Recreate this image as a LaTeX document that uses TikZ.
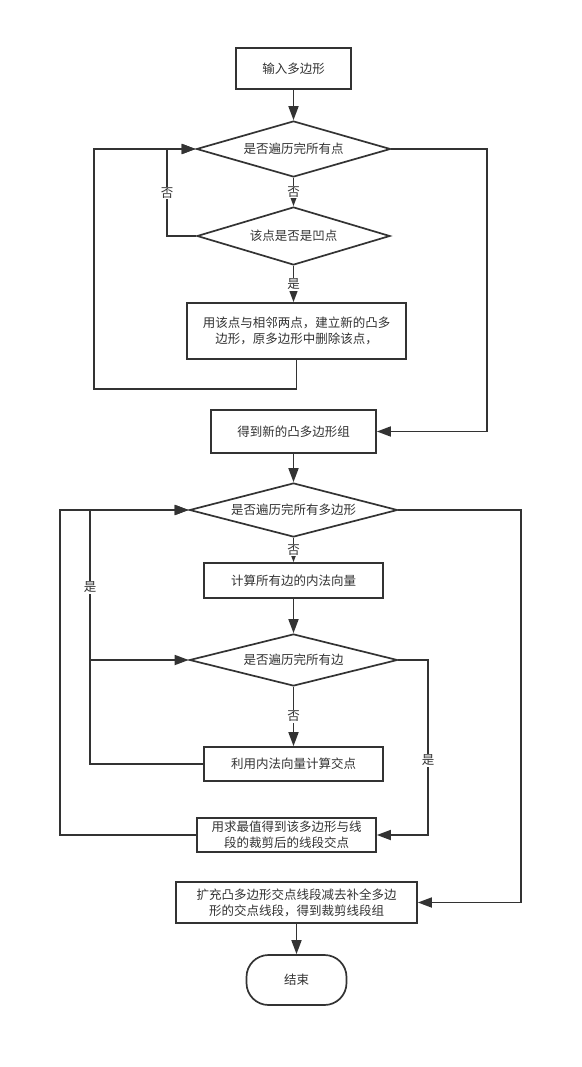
\documentclass[tikz,border=0pt]{standalone}
\usepackage{fontspec}
\setmainfont{Noto Sans CJK SC}
\usetikzlibrary{shapes.geometric,arrows.meta}
\definecolor{ln}{HTML}{333333}
\tikzset{
  base/.style={draw=ln, line width=1.7pt, text=ln, font=\fontsize{12.5pt}{16pt}\selectfont, inner sep=0pt, align=center},
  procbox/.style={base, rectangle},
  decide/.style={base, diamond, aspect=3.5},
  termbox/.style={base, rectangle, rounded corners=22pt},
  flow/.style={draw=ln, line width=1.7pt, -{Triangle[length=14pt,width=10pt]}},
  lab/.style={fill=white, text=ln, font=\fontsize{12.5pt}{15pt}\selectfont, inner sep=1pt}
}
\begin{document}
\begin{tikzpicture}[x=1pt,y=-1pt]
\fill[white] (0,0) rectangle (581,1067);
\useasboundingbox (0,0) rectangle (581,1067);

\node[procbox, minimum width=115pt, minimum height=41pt] (in) at (293.5,68.5) {输入多边形};
\node[decide, minimum width=194pt, minimum height=56pt] (d1) at (293.5,149) {是否遍历完所有点};
\node[decide, minimum width=193pt, minimum height=58pt] (d2) at (293.5,236) {该点是否是凹点};
\node[procbox, minimum width=219pt, minimum height=56pt] (b3) at (296.5,331) {用该点与相邻两点，建立新的凸多\\边形，原多边形中删除该点，};
\node[procbox, minimum width=165pt, minimum height=43pt] (b4) at (293.5,431.5) {得到新的凸多边形组};
\node[decide, minimum width=208pt, minimum height=54pt] (d3) at (293.5,510) {是否遍历完所有多边形};
\node[procbox, minimum width=179pt, minimum height=35pt] (b5) at (293.5,580.5) {计算所有边的内法向量};
\node[decide, minimum width=208pt, minimum height=52pt] (d4) at (293.5,660) {是否遍历完所有边};
\node[procbox, minimum width=179pt, minimum height=34pt] (b6) at (293.5,764) {利用内法向量计算交点};
\node[procbox, minimum width=179pt, minimum height=34pt] (b7) at (286.5,835) {用求最值得到该多边形与线\\段的裁剪后的线段交点};
\node[procbox, minimum width=241pt, minimum height=41pt] (b8) at (296.5,902.5) {扩充凸多边形交点线段减去补全多边\\形的交点线段，得到裁剪线段组};
\node[termbox, minimum width=100pt, minimum height=50pt] (end) at (296.5,980) {结束};

% upper part
\draw[flow] (in) -- (d1);
\draw[flow] (d1.south) -- (d2.north) node[lab, pos=0.5] {否};
\draw[flow] (d2.west) -- (167,236) -- (167,149) -- (d1.west);
\node[lab] (l1) at (167,193) {否};
\draw[flow] (b3.south) -- (b3.south |- 0,389) -- (94,389) -- (94,149) -- (d1.west);
\draw[flow] (d1.east) -- (487,149) -- (487,431.5) -- (b4.east);
\draw[flow] (d2.south) -- (d2.south |- b3.north) node[lab, pos=0.5] {是};
\draw[flow] (b4) -- (d3);

% lower part
\draw[flow] (d3.south) -- (b5.north) node[lab, pos=0.5] {否};
\draw[flow] (b5) -- (d4);
\draw[flow] (d4.south) -- (b6.north) node[lab, pos=0.5] {否};
\draw[flow] (b6.west) -- (90,764) -- (90,660) -- (d4.west);
\draw[flow] (b6.west) -- (90,764) -- (90,510) -- (d3.west);
\node[lab] (l2) at (90,587) {是};
\draw[flow] (d4.east) -- (428,660) -- (428,835) -- (b7.east);
\node[lab] (l3) at (428,760) {是};
\draw[flow] (b7.west) -- (60,835) -- (60,510) -- (d3.west);
\draw[flow] (d3.east) -- (521,510) -- (521,902.5) -- (b8.east);
\draw[flow] (b8.south) -- (end.north);
\end{tikzpicture}
\end{document}
